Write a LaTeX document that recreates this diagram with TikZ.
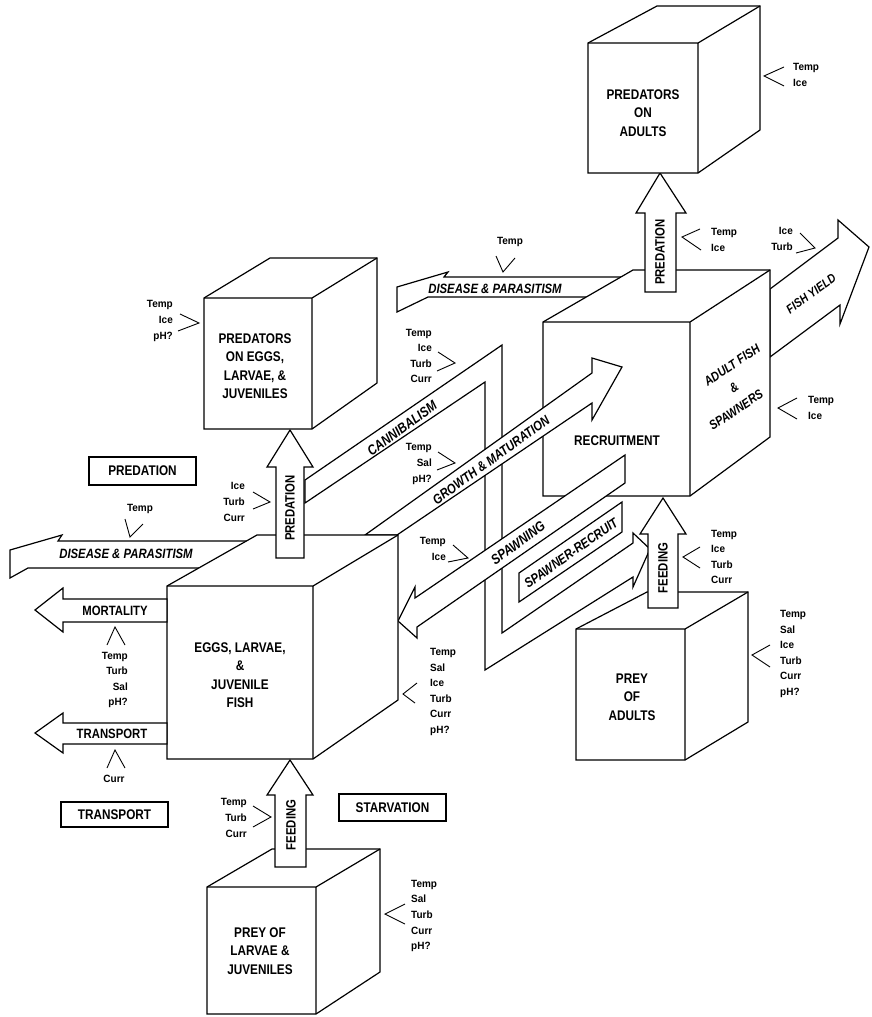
\documentclass[tikz,border=0pt]{standalone}
\usepackage{fontspec}
\setmainfont{Liberation Sans}
\newfontfamily\narf{Liberation Sans}[FakeStretch=0.84]
\newfontfamily\smf{Liberation Sans}[FakeStretch=0.95]
\newcommand\mycube[8]{%
  \filldraw[solid] (#1,#2) -- (#5,#6) -- (#7,#6) -- (#7,#8) -- (#3,#4) -- (#1,#4) -- cycle;
  \draw[edge] (#1,#2) -- (#3,#2) -- (#3,#4) (#3,#2) -- (#7,#6);}
\begin{document}
\begin{tikzpicture}[x=1pt,y=-1pt,
  solid/.style={draw, fill=white, line width=1.2pt, line join=miter},
  edge/.style={line width=1.2pt},
  tick/.style={line width=0.9pt},
  big/.style={font=\narf\bfseries\fontsize{14}{18.5}\selectfont, align=center, inner sep=0pt},
  arl/.style={font=\narf\bfseries\fontsize{13.5}{16}\selectfont, inner sep=0pt},
  itl/.style={font=\narf\bfseries\itshape\fontsize{13.5}{16}\selectfont, inner sep=0pt},
  sm/.style={font=\smf\bfseries\fontsize{10.5}{15.6}\selectfont, inner sep=0pt},
  lbox/.style={draw, line width=1.2pt, font=\narf\bfseries\fontsize{14}{16}\selectfont, inner sep=0pt},
]
\useasboundingbox (0,0) rectangle (871,1017);

% ---- upper disease arrow (behind adult box)
\filldraw[solid] (397,287) -- (448,272) -- (444,277) -- (640,277) -- (640,297) -- (428,297) -- (397,312) -- cycle;
% ---- fish yield
\filldraw[solid] (770,289) -- (838,238) -- (838,220) -- (869,247) -- (840,324) -- (840,305) -- (770,357) -- cycle;
% ---- adult box
\mycube{543}{322}{690}{496}{633}{270}{770}{437}
% predation (adults)
\filldraw[solid] (645,292) -- (645,213) -- (636,213) -- (660,173) -- (686,213) -- (676,213) -- (676,292) -- cycle;
% predators on adults
\mycube{588}{43}{698}{173}{657}{6}{760}{130}

% ---- cannibalism band
\filldraw[solid] (305,480) -- (502,345) -- (502,633) -- (633,543) -- (633,533) -- (650,549) -- (633,587) -- (633,577) -- (485,670) -- (485,382) -- (305,503) -- cycle;
% ---- growth & maturation
\filldraw[solid] (365,535) -- (592,373) -- (592,358) -- (622,367) -- (592,420) -- (592,403) -- (397,535) -- cycle;
% ---- spawning
\filldraw[solid] (625,455) -- (415,598) -- (415,587) -- (398,621) -- (417,638) -- (417,627) -- (625,483) -- cycle;
% ---- spawner-recruit
\filldraw[solid] (519,573) -- (622,502) -- (622,532) -- (519,602) -- cycle;

% ---- lower disease
\filldraw[solid] (10,550) -- (62,535) -- (58,541) -- (260,541) -- (260,568) -- (28,568) -- (10,578) -- cycle;
% ---- eggs box
\mycube{167}{586}{313}{759}{257}{535}{398}{700}
% predation (eggs)
\filldraw[solid] (276,558) -- (276,467) -- (267,467) -- (290,430) -- (313,467) -- (304,467) -- (304,558) -- cycle;
% predators on eggs
\mycube{204}{298}{312}{429}{270}{258}{377}{383}
% mortality / transport
\filldraw[solid] (167,599) -- (63,599) -- (63,588) -- (35,610) -- (63,632) -- (63,622) -- (167,622) -- cycle;
\filldraw[solid] (167,723) -- (63,723) -- (63,713) -- (35,733) -- (63,753) -- (63,744) -- (167,744) -- cycle;
% prey of adults + feeding
\mycube{576}{629}{685}{760}{647}{592}{748}{722}
\filldraw[solid] (648,608) -- (648,534) -- (640,534) -- (663,498) -- (686,534) -- (678,534) -- (678,608) -- cycle;
% prey of larvae + feeding
\mycube{207}{887}{316}{1014}{272}{849}{380}{972}
\filldraw[solid] (275,867) -- (275,795) -- (267,795) -- (290,760) -- (313,795) -- (306,795) -- (306,867) -- cycle;

% ---- box texts
\node[big] (pa) at (643,113) {PREDATORS\\ON\\ADULTS};
\node[big] (rec) at (617,441) {RECRUITMENT};
\node[big] (pe) at (255,366) {PREDATORS\\ON EGGS,\\LARVAE, \&\\JUVENILES};
\node[big] (eg) at (240,675) {EGGS, LARVAE,\\\&\\JUVENILE\\FISH};
\node[big] (pl) at (260,951) {PREY OF\\LARVAE \&\\JUVENILES};
\node[big] (pad) at (632,697) {PREY\\OF\\ADULTS};
\node[itl, font=\narf\bfseries\itshape\fontsize{13}{16}\selectfont, rotate=34] (af1) at (732,365) {ADULT FISH};
\node[itl, font=\narf\bfseries\itshape\fontsize{13}{16}\selectfont, rotate=34] (af2) at (734,388) {\&};
\node[itl, font=\narf\bfseries\itshape\fontsize{13}{16}\selectfont, rotate=34] (af3) at (736,410) {SPAWNERS};

% ---- arrow texts
\node[arl, rotate=90] (tpa) at (660,252) {PREDATION};
\node[arl, rotate=90] (tpe) at (290,508) {PREDATION};
\node[arl, rotate=90] (tfa) at (663,568) {FEEDING};
\node[arl, rotate=90] (tfe) at (291,825) {FEEDING};
\node[arl] (tmo) at (115,611) {MORTALITY};
\node[arl] (ttr) at (112,734) {TRANSPORT};
\node[itl] (td1) at (495,289) {DISEASE \& PARASITISM};
\node[itl] (td2) at (126,554) {DISEASE \& PARASITISM};
\node[itl, font=\narf\bfseries\itshape\fontsize{14}{16}\selectfont, rotate=36] (tca) at (402,428) {CANNIBALISM};
\node[itl, rotate=36] (tgr) at (491,460) {GROWTH \& MATURATION};
\node[itl, font=\narf\bfseries\itshape\fontsize{14}{16}\selectfont, rotate=36] (tsp) at (518,543) {SPAWNING};
\node[itl, rotate=35] (tsr) at (571,553) {SPAWNER-RECRUIT};
\node[itl, font=\narf\bfseries\itshape\fontsize{12.5}{16}\selectfont, rotate=36] (tfy) at (811,294) {FISH YIELD};

% ---- label boxes
\node[lbox, minimum width=107pt, minimum height=28pt] (bpr) at (142.5,471) {PREDATION};
\node[lbox, minimum width=107pt, minimum height=25pt] (btr) at (114.5,814.5) {TRANSPORT};
\node[lbox, minimum width=107pt, minimum height=27pt] (bst) at (392.5,807.5) {STARVATION};

% ---- environmental factor labels
\node[sm, align=left, anchor=west] (l1) at (793,75) {Temp\\Ice};
\draw[tick] (784,67) -- (764,76) -- (784,86);
\node[sm, align=left, anchor=west] (l2) at (711,240) {Temp\\Ice};
\draw[tick] (700,229) -- (682,237) -- (701,250);
\node[sm, align=right, anchor=east] (l3) at (793,239) {Ice\\Turb};
\draw[tick] (800,233) -- (815,248) -- (796,253);
\node[sm] (l4) at (510,242) {Temp};
\draw[tick] (496,256) -- (503,272) -- (515,258);
\node[sm, align=right, anchor=east] (l5) at (173,321) {Temp\\Ice\\pH?};
\draw[tick] (180,314) -- (199,323) -- (178,331);
\node[sm, align=right, anchor=east] (l6) at (432,356) {Temp\\Ice\\Turb\\Curr};
\draw[tick] (438,352) -- (455,363) -- (437,371);
\node[sm, align=left, anchor=west] (l7) at (808,408) {Temp\\Ice};
\draw[tick] (797,398) -- (778,408) -- (797,419);
\node[sm, align=right, anchor=east] (l8) at (245,502) {Ice\\Turb\\Curr};
\draw[tick] (253,492) -- (270,502) -- (253,509);
\node[sm, align=right, anchor=east] (l9) at (432,464) {Temp\\Sal\\pH?};
\draw[tick] (438,452) -- (455,463) -- (437,470);
\node[sm] (l10) at (140,509) {Temp};
\draw[tick] (125,519) -- (130,537) -- (143,524);
\node[sm, align=right, anchor=east] (l11) at (446,549) {Temp\\Ice};
\draw[tick] (453,545) -- (468,558) -- (448,562);
\node[sm, align=left, anchor=west] (l12) at (711,557) {Temp\\Ice\\Turb\\Curr};
\draw[tick] (700,547) -- (683,557) -- (700,568);
\node[sm, align=left, anchor=west] (l13) at (780,654) {Temp\\Sal\\Ice\\Turb\\Curr\\pH?};
\draw[tick] (770,645) -- (752,655) -- (770,667);
\node[sm, align=right, anchor=east] (l14) at (128,680) {Temp\\Turb\\Sal\\pH?};
\draw[tick] (107,645) -- (115,627) -- (125,645);
\node[sm, align=left, anchor=west] (l15) at (430,692) {Temp\\Sal\\Ice\\Turb\\Curr\\pH?};
\draw[tick] (417,683) -- (403,694) -- (415,703);
\node[sm] (l16) at (114,779) {Curr};
\draw[tick] (107,768) -- (115,750) -- (125,768);
\node[sm, align=right, anchor=east] (l17) at (247,818) {Temp\\Turb\\Curr};
\draw[tick] (253,806) -- (271,817) -- (253,827);
\node[sm, align=left, anchor=west] (l18) at (411,916) {Temp\\Sal\\Turb\\Curr\\pH?};
\draw[tick] (405,904) -- (385,914) -- (405,924);
\end{tikzpicture}
\end{document}
